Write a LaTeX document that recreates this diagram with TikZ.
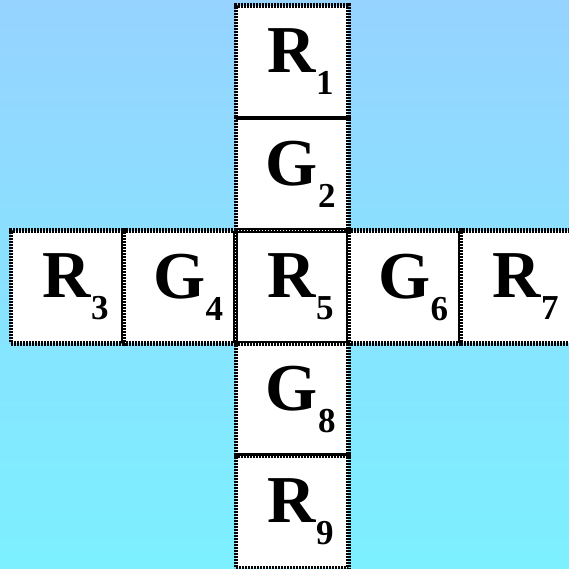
\documentclass[tikz,border=0pt]{standalone}
\usepackage{fontspec}
\setmainfont{Liberation Serif}
\usetikzlibrary{positioning}
\definecolor{skytop}{HTML}{96D3FF}
\definecolor{skybot}{HTML}{7CF0FF}
\tikzset{
  cell/.style = {draw=black, fill=white, line width=4.5pt, dash pattern=on 1.8pt off 1.2pt,
                 minimum size=112.5pt, inner sep=0pt, outer sep=0pt,
                 font=\fontsize{67}{67}\selectfont\bfseries},
  seam/.style = {draw=black, line width=2pt},
}
\newcommand{\lab}[2]{#1\rlap{\raisebox{-22pt}{\fontsize{35}{35}\selectfont #2}}}

\begin{document}
\begin{tikzpicture}[x=1pt, y=1pt, node distance=0pt and 0pt]
    % background
    \shade[top color=skytop, bottom color=skybot] (0,0) rectangle (569,568);
    \useasboundingbox (0,0) rectangle (569,568);
    % centre and the column
    \node[cell] (r5) at (292,281) {\lab{R}{5}};
    \node[cell, above=of r5] (g2) {\lab{G}{2}};
    \node[cell, above=of g2] (r1) {\lab{R}{1}};
    \node[cell, below=of r5] (g8) {\lab{G}{8}};
    \node[cell, below=of g8] (r9) {\lab{R}{9}};
    % the row
    \node[cell, left=of r5]  (g4) {\lab{G}{4}};
    \node[cell, left=of g4]  (r3) {\lab{R}{3}};
    \node[cell, right=of r5] (g6) {\lab{G}{6}};
    \node[cell, right=of g6] (r7) {\lab{R}{7}};

    % solid edges where cells meet
    \draw[seam] ([yshift=1.4pt]r1.south west) -- ([yshift=1.4pt]r1.south east);
    \draw[seam] ([yshift=1.4pt]g2.south west) -- ([yshift=1.4pt]g2.south east);
    \draw[seam] ([yshift=1.4pt]g8.south west) -- ([yshift=1.4pt]g8.south east);
    \draw[seam] ([xshift=-1.4pt]r3.north east) -- ([xshift=-1.4pt]r3.south east);
    \draw[seam] ([xshift=-1.4pt]g4.north east) -- ([xshift=-1.4pt]g4.south east);
    \draw[seam] ([xshift=-1.4pt]g6.north east) -- ([xshift=-1.4pt]g6.south east);
    \draw[seam] ([shift={(1.6pt,1.6pt)}]r5.south west) rectangle ([shift={(-1.6pt,-1.6pt)}]r5.north east);
  \end{tikzpicture}
\end{document}
